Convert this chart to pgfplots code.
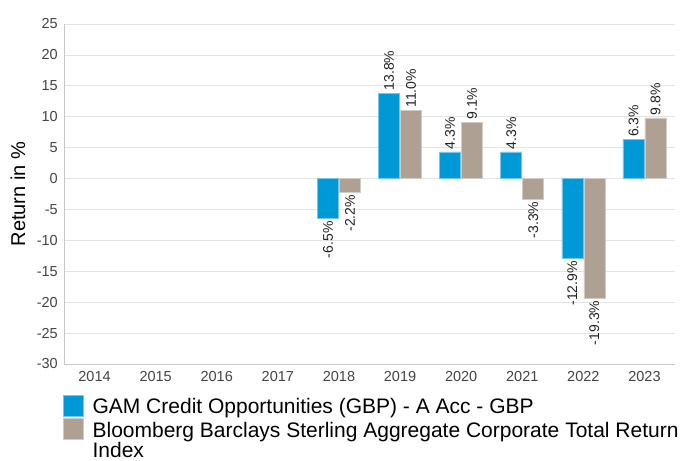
\documentclass[border=0pt]{standalone}
\usepackage{fontspec}
\setmainfont{Liberation Sans}
\usepackage{pgfplots}
\pgfplotsset{compat=1.18}
\definecolor{gamblue}{HTML}{0099D8}
\definecolor{taupe}{HTML}{AEA092}
\definecolor{gridc}{HTML}{E4E4E4}
\definecolor{tickc}{HTML}{444444}
\definecolor{labc}{HTML}{222222}
\begin{document}
\begin{tikzpicture}
\begin{axis}[
  at={(0,0)}, anchor=south west,
  scale only axis, width=611bp, height=340bp,
  ybar=1bp, bar width=21bp,
  xmin=-0.5, xmax=9.5, ymin=-30, ymax=25,
  xtick={0,1,2,3,4,5,6,7,8,9},
  xticklabels={2014,2015,2016,2017,2018,2019,2020,2021,2022,2023},
  ytick={-30,-25,-20,-15,-10,-5,0,5,10,15,20,25},
  ymajorgrids, grid style={draw=gridc, line width=0.8bp},
  axis lines=left, axis line style={draw=black!22, line width=0.8bp, -},
  major tick length=0pt,
  /pgf/number format/assume math mode=true,
  tick label style={font=\fontsize{14.5bp}{17bp}\selectfont, text=tickc, inner sep=0pt},
  yticklabel style={xshift=-6bp},
  xticklabel style={yshift=-7bp},
  ylabel={Return in \%},
  every axis y label/.style={at={(axis description cs:-0.0753,0.5)}, rotate=90, anchor=center, font=\fontsize{20bp}{24bp}\selectfont},
  every axis plot post/.append style={legend image code/.code={\fill[##1] (0bp,-2bp) rectangle (20bp,19bp);}},
  legend style={at={(axis description cs:0,0)}, anchor=north west, xshift=-1bp, yshift=-30.5bp,
    draw=none, fill=none, inner sep=0pt, outer sep=0pt,
    font=\fontsize{21bp}{20bp}\selectfont, row sep=0.6bp, column sep=7bp,
    cells={anchor=base west, inner sep=0pt}},
  nodes near coords={\pgfmathprintnumber[fixed,fixed zerofill,precision=1]{\pgfplotspointmeta}\%},
  every node near coord/.append style={font=\fontsize{14bp}{16bp}\selectfont, text=labc, rotate=90, inner sep=2.5bp},
]
\addplot[fill=gamblue, draw=gamblue!55!white, line width=0.6bp, bar shift=-11bp,
  every node near coord/.append style={anchor=west}]
  coordinates {(5,13.8) (6,4.3) (7,4.3) (9,6.3)};
\addlegendentry{GAM Credit Opportunities (GBP) - A Acc - GBP}
\addplot[fill=gamblue, draw=gamblue!55!white, line width=0.6bp, bar shift=-11bp, forget plot,
  every node near coord/.append style={anchor=east}]
  coordinates {(4,-6.5) (8,-12.9)};
\addplot[fill=taupe, draw=taupe!55!white, line width=0.6bp, bar shift=11bp,
  every node near coord/.append style={anchor=west}]
  coordinates {(5,11.0) (6,9.1) (9,9.8)};
\addlegendentry{\vtop{\hbox{Bloomberg Barclays Sterling Aggregate Corporate Total Return}\hbox{Index}}}
\addplot[fill=taupe, draw=taupe!55!white, line width=0.6bp, bar shift=11bp, forget plot,
  every node near coord/.append style={anchor=east}]
  coordinates {(4,-2.2) (7,-3.3) (8,-19.3)};
\end{axis}
\pgfresetboundingbox
\path[use as bounding box] (-64bp,-97bp) rectangle (619bp,364bp);
\end{tikzpicture}
\end{document}
